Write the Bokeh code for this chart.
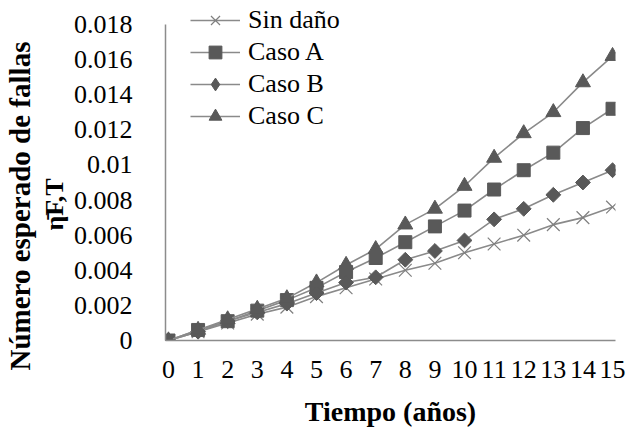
import math
from bokeh.plotting import figure
from bokeh.models import Range1d, FixedTicker, Legend, LegendItem, Title, ColumnDataSource
from bokeh.embed import file_html
from bokeh.resources import INLINE

years = list(range(16))
sin_dano = [0.0, 0.0005, 0.0010, 0.0015, 0.0019, 0.0025, 0.0030, 0.0035, 0.0040, 0.0044, 0.0050, 0.0055, 0.0060, 0.0066, 0.0070, 0.0076]
caso_a = [0.0, 0.0006, 0.0011, 0.0017, 0.0023, 0.0030, 0.0039, 0.0047, 0.0056, 0.0065, 0.0074, 0.0086, 0.0097, 0.0107, 0.0121, 0.0132]
caso_b = [0.0, 0.0005, 0.0011, 0.0016, 0.0021, 0.0027, 0.0033, 0.0036, 0.0046, 0.0051, 0.0057, 0.0069, 0.0075, 0.0083, 0.0090, 0.0097]
caso_c = [0.0, 0.0006, 0.0012, 0.0018, 0.0024, 0.0033, 0.0043, 0.0052, 0.0066, 0.0075, 0.0088, 0.0104, 0.0118, 0.0130, 0.0147, 0.0162]
series_names = ["Sin daño", "Caso A", "Caso B", "Caso C"]
y_ticks = [0, 0.002, 0.004, 0.006, 0.008, 0.01, 0.012, 0.014, 0.016, 0.018]
y_tick_labels = ["0", "0.002", "0.004", "0.006", "0.008", "0.01", "0.012", "0.014", "0.016", "0.018"]
y_title = "Número esperado de fallas"
y_symbol = "η\u0304F,T"
x_title = "Tiempo (años)"

W, H = 626, 439
FL, FR, FT, FB = 165, 615, 2, 340    # frame edges in px (top raised so the legend is not clipped)
AXIS_TOP = 24                        # px where the y axis line ends (value 0.018)
X0, X1 = -0.1, 15.1
Y0, YMAX = 0.0, 0.018
Y1 = YMAX * (FB - FT) / (FB - AXIS_TOP)

serif = "Liberation Serif"

p = figure(width=W, height=H, output_backend="svg", toolbar_location=None, title=None,
           x_range=Range1d(X0, X1), y_range=Range1d(Y0, Y1),
           min_border_left=FL, min_border_right=W - FR,
           min_border_top=FT, min_border_bottom=H - FB)
p.outline_line_color = None
p.grid.visible = False

axis_col = "#8c8c8c"
for ax in (p.xaxis[0], p.yaxis[0]):
    ax.axis_line_color = axis_col
    ax.axis_line_width = 1.5
    ax.major_tick_line_color = None
    ax.minor_tick_line_color = None
    ax.major_label_text_font = serif
    ax.major_label_text_font_size = "26px"
    ax.major_label_text_color = "black"
    ax.axis_label_text_font = serif
    ax.axis_label_text_font_style = "bold"
    ax.axis_label_text_font_size = "28px"
    ax.axis_label_text_color = "black"

p.xaxis[0].ticker = FixedTicker(ticks=years)
p.xaxis[0].major_label_standoff = 14
p.xaxis[0].axis_label = x_title
p.xaxis[0].axis_label_standoff = 15

p.yaxis[0].ticker = FixedTicker(ticks=y_ticks)
p.yaxis[0].bounds = (Y0, YMAX)
p.yaxis[0].major_label_overrides = {t: s for t, s in zip(y_ticks, y_tick_labels)}
p.yaxis[0].major_label_standoff = 27

# y-axis titles (stacked outward from the axis)
p.add_layout(Title(text=y_symbol, align="left", offset=110, standoff=3,
                   text_font=serif, text_font_style="bold", text_font_size="26px",
                   text_color="black"), "left")
p.add_layout(Title(text=y_title, align="left", offset=-30, standoff=1,
                   text_font=serif, text_font_style="bold", text_font_size="29px",
                   text_color="black"), "left")

line_col = "#8a8a8a"
mark_col = "#595959"
items = []
specs = [
    (sin_dano, "x", 18, 0.0),
    (caso_a, "square", 13, 0.0),
    (caso_b, "square", 10.5, math.pi / 4),
    (caso_c, "triangle", 15, 0.0),
]
for name, (vals, marker, size, ang) in zip(series_names, specs):
    src = ColumnDataSource(data=dict(x=years, y=vals))
    ln = p.line("x", "y", source=src, line_color=line_col, line_width=1.6)
    if marker == "x":
        sc = p.scatter("x", "y", source=src, marker=marker, size=size,
                       line_color="#7f7f7f", line_width=1.2)
        leg = sc
    elif ang:
        # diamond marker used as the legend glyph; in the plot it sits fully
        # under the rotated square drawn on top of it
        leg = p.scatter("x", "y", source=src, marker="diamond", size=10,
                        fill_color=mark_col, line_color=mark_col)
        sc = p.scatter("x", "y", source=src, marker=marker, size=size, angle=ang,
                       fill_color=mark_col, line_color=mark_col)
    else:
        sc = p.scatter("x", "y", source=src, marker=marker, size=size,
                       fill_color=mark_col, line_color=mark_col)
        leg = sc
    items.append(LegendItem(label=name, renderers=[ln, leg]))

legend = Legend(items=items, location=(25, 208), orientation="vertical",
                glyph_width=50, glyph_height=32, label_height=32, spacing=0,
                padding=0, margin=0, label_standoff=8,
                label_text_font=serif, label_text_font_size="26px", label_text_color="black",
                border_line_color=None, background_fill_alpha=0)
p.add_layout(legend, "center")

open("out.html", "w").write(file_html(p, INLINE))
